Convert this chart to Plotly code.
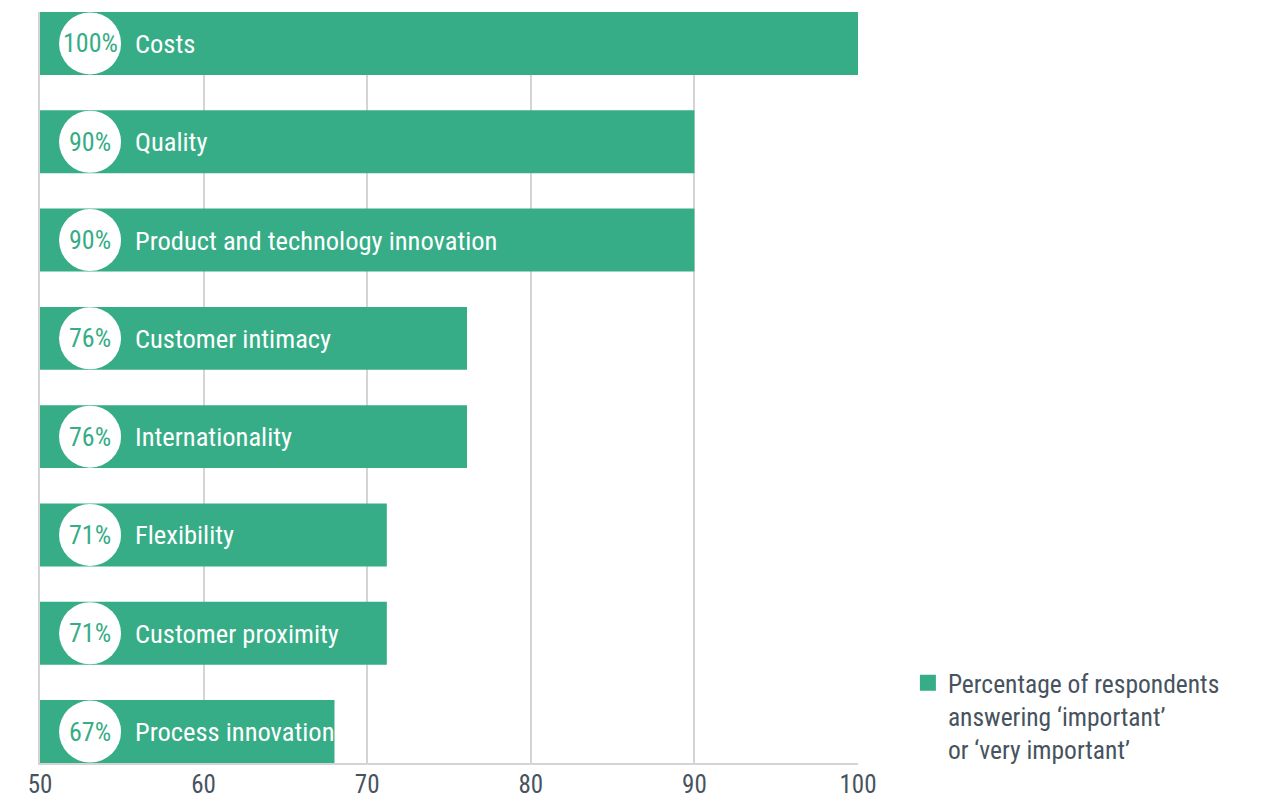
import plotly.graph_objects as go

categories = ["Costs", "Quality", "Product and technology innovation",
              "Customer intimacy", "Internationality", "Flexibility",
              "Customer proximity", "Process innovation"]
values = [100, 90, 90, 76.1, 76.1, 71.2, 71.2, 68]
pct_labels = ["100%", "90%", "90%", "76%", "76%", "71%", "71%", "67%"]
x_ticks = [50, 60, 70, 80, 90, 100]
legend_name = "Percentage of respondents<br>answering ‘important’<br>or ‘very important’"

GREEN = "#36ad86"
DARK = "#47535e"
GRID = "#d4d4d4"
FONT = "Roboto Condensed, Roboto, sans-serif"
X_MIN, X_MAX = 50, 100
CIRCLE_OFFSET = 3.06  # data units from axis start
n = len(categories)
idx = list(range(n))

fig = go.Figure()
fig.add_trace(go.Bar(
    y=idx, x=[v - X_MIN for v in values], base=X_MIN, orientation="h",
    marker=dict(color=GREEN, line=dict(width=0)), width=0.64,
    showlegend=False, hoverinfo="skip",
))
fig.add_trace(go.Scatter(
    y=idx, x=[X_MIN + CIRCLE_OFFSET] * n, mode="markers",
    marker=dict(size=62, color="white", line=dict(width=0)),
    showlegend=False, hoverinfo="skip", cliponaxis=False,
))
fig.add_trace(go.Scatter(
    x=[None], y=[None], mode="markers", name=legend_name,
    marker=dict(symbol="square", size=18, color=GREEN),
))
for i, (c, p) in enumerate(zip(categories, pct_labels)):
    fig.add_annotation(x=X_MIN + CIRCLE_OFFSET, xref="x", y=i, yref="y", text=p,
                       showarrow=False, xanchor="center", yanchor="middle",
                       font=dict(family=FONT, size=26, color=GREEN))
    fig.add_annotation(x=0.1135, xref="paper", y=i, yref="y", text=c,
                       showarrow=False, xanchor="left", yanchor="middle",
                       font=dict(family=FONT, size=26.5, color="white"))

fig.update_layout(
    width=1266, height=801,
    margin=dict(l=40, r=408, t=12, b=38),
    plot_bgcolor="white", paper_bgcolor="white",
    font=dict(family=FONT, color=DARK),
    xaxis=dict(range=[X_MIN, X_MAX], tickvals=x_ticks, showgrid=True,
               gridcolor=GRID, gridwidth=1.5, showline=True, linecolor=GRID,
               linewidth=1.5, zeroline=False, ticks="", automargin=False,
               ticklabelstandoff=-2,
               tickfont=dict(family=FONT, size=25, color=DARK)),
    yaxis=dict(range=[n - 1 + 0.32, -0.32], showticklabels=False,
               showgrid=False, zeroline=False, showline=True,
               linecolor=GRID, linewidth=1.5, automargin=False),
    legend=dict(x=1.061, xanchor="left", y=-0.013, yanchor="bottom", valign="top",
                font=dict(family=FONT, size=25.5, color=DARK),
                bgcolor="rgba(0,0,0,0)"),
)
fig.write_html("out.html")
